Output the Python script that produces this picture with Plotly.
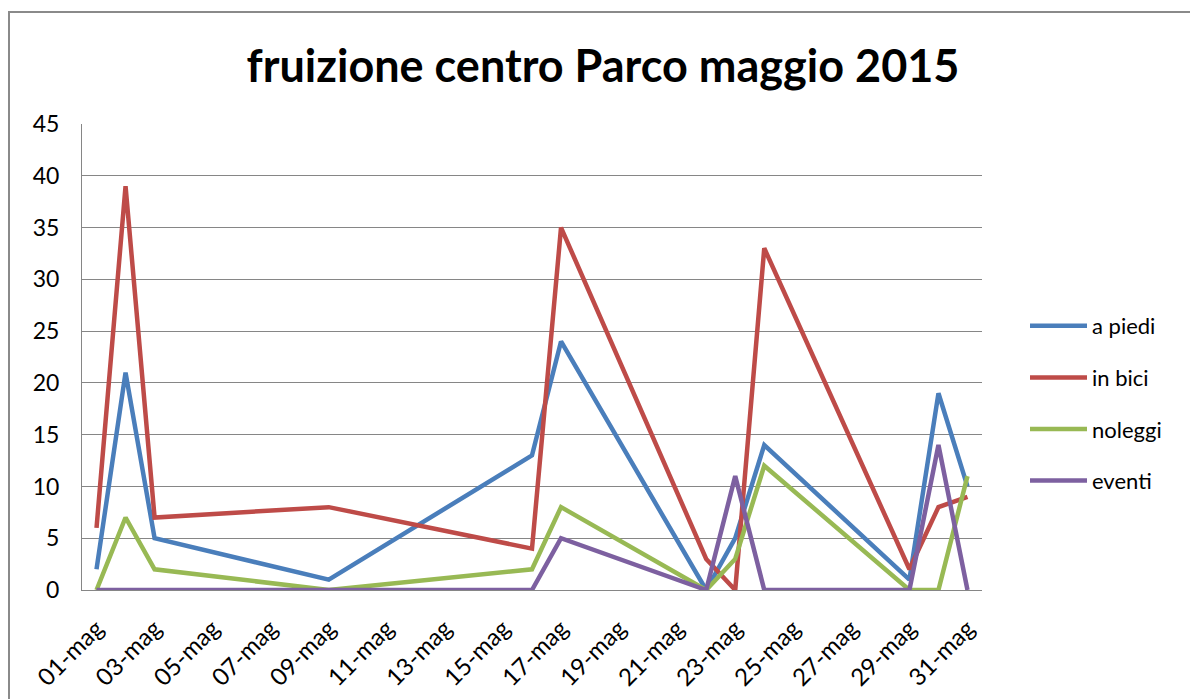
import plotly.graph_objects as go

dates = ["2015-05-01", "2015-05-02", "2015-05-03", "2015-05-09", "2015-05-16",
         "2015-05-17", "2015-05-22", "2015-05-23", "2015-05-24", "2015-05-29",
         "2015-05-30", "2015-05-31"]
a_piedi = [2, 21, 5, 1, 13, 24, 0, 5, 14, 1, 19, 10]
in_bici = [6, 39, 7, 8, 4, 35, 3, 0, 33, 2, 8, 9]
noleggi = [0, 7, 2, 0, 2, 8, 0, 3, 12, 0, 0, 11]
eventi = [0, 0, 0, 0, 0, 5, 0, 11, 0, 0, 14, 0]

series_names = ["a piedi", "in bici", "noleggi", "eventi"]
series_values = [a_piedi, in_bici, noleggi, eventi]
colors = ["#4A7EBB", "#BE4B48", "#98B954", "#7D60A0"]

tick_dates = ["2015-05-%02d" % d for d in range(1, 32, 2)]
tick_labels = ["%02d-mag" % d for d in range(1, 32, 2)]

fig = go.Figure()
for name, vals, col in zip(series_names, series_values, colors):
    fig.add_trace(go.Scatter(x=dates, y=vals, name=name, mode="lines",
                             line=dict(color=col, width=4.5),
                             legendgroup=name))

grid = "#868686"
font_family = "Lato, 'Open Sans', sans-serif"

W, H = 1190, 699
L, T = 82, 124
PW, PH = 900, 466
R = W - L - PW
B = H - T - PH

fig.update_layout(
    width=W, height=H,
    margin=dict(l=L, r=R, t=T, b=B, autoexpand=False),
    paper_bgcolor="white", plot_bgcolor="white",
    title=dict(text="<b>fruizione centro Parco maggio 2015</b>",
               x=603 / W, xanchor="center", y=1 - 66 / H, yanchor="middle",
               font=dict(family=font_family, size=45, color="black")),
    font=dict(family=font_family, size=22, color="black"),
    showlegend=True,
    legend=dict(x=(1025 - L) / PW, xanchor="left", y=(590 - 305) / PH, yanchor="top",
                font=dict(family=font_family, size=22, color="black"),
                tracegroupgap=20, bgcolor="rgba(0,0,0,0)", itemwidth=57),
    xaxis=dict(type="date", automargin=False,
               range=["2015-04-30 12:00", "2015-05-31 12:00"],
               tickmode="array", tickvals=tick_dates, ticktext=tick_labels,
               tickangle=-45, showgrid=False, showline=True, linecolor=grid,
               linewidth=1, ticks="", tickfont=dict(size=24), zeroline=False,
               ticklabelstandoff=14),
    yaxis=dict(range=[0, 45], dtick=5, showgrid=True, gridcolor=grid, gridwidth=1,
               automargin=False,
               showline=True, linecolor=grid, linewidth=1, ticks="",
               tickfont=dict(size=23), zeroline=False, ticklabelstandoff=17),
    shapes=[
        dict(type="line", xref="paper", yref="paper",
             x0=(8 - L) / PW, x1=(W + 50 - L) / PW,
             y0=(PH + T - 12) / PH, y1=(PH + T - 12) / PH,
             line=dict(color="#8A8A8A", width=2), layer="below"),
        dict(type="line", xref="paper", yref="paper",
             x0=(9 - L) / PW, x1=(9 - L) / PW,
             y0=(PH + T - 12) / PH, y1=-(B + 50) / PH,
             line=dict(color="#8A8A8A", width=2), layer="below"),
    ],
)

fig.write_html("out.html",
               config={"displayModeBar": False},
               post_script="document.body.style.margin='0px';"
                           "document.body.style.overflow='hidden';")
